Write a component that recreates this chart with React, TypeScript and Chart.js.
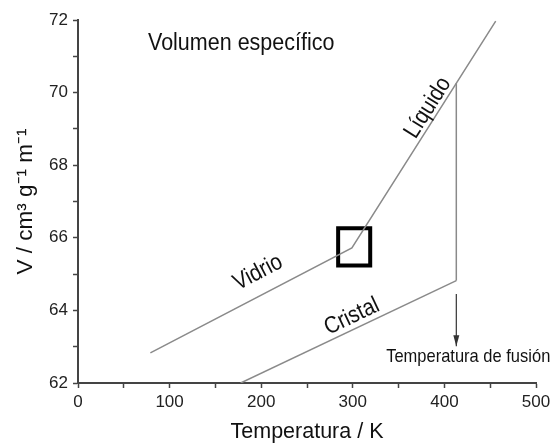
import React, { useEffect, useRef } from "react";
import { Chart, registerables } from "chart.js";
Chart.register(...registerables);

// Glass (Vidrio) + liquid (Líquido) curve: temperature (K) and specific volume
const glassT = [79, 299, 456];
const glassV = [62.83, 65.72, 71.97];
// Crystal (Cristal) line
const crystalT = [177.6, 413];
const crystalV = [62.0, 64.82];
// Vertical jump at the melting temperature
const meltT = [413, 413];
const meltV = [64.82, 70.26];
// Arrow pointing to "Temperatura de fusión"
const arrowT = [413, 413];
const arrowV = [64.45, 63.01];
// Square marking the glass transition
const boxT = [284, 319, 319, 284, 284];
const boxV = [65.24, 65.24, 66.26, 66.26, 65.24];

// Axis ticks
const xMajorTicks = [0, 100, 200, 300, 400, 500];
const yMajorTicks = [62, 64, 66, 68, 70, 72];

// Curve labels
const curveLabels = ["Vidrio", "Cristal", "Líquido"];
const curveLabelT = [196.5, 299, 382];
const curveLabelV = [65.04, 63.83, 69.58];

// Free texts
const headerText = "Volumen específico";
const headerT = 76.4;
const headerV = 71.37;
const fusionText = "Temperatura de fusión";
const fusionT = 426;
const fusionV = 62.73;

const FAMILY = '"Liberation Sans", Arial, Helvetica, sans-serif';

export default function App() {
  const ref = useRef<HTMLCanvasElement>(null);

  useEffect(() => {
    const canvas = ref.current!;
    const pts = (xs: number[], ys: number[]) => xs.map((x, i) => ({ x, y: ys[i] }));

    const segments = [
      [glassT[0], glassV[0], glassT[1], glassV[1]],
      [crystalT[0], crystalV[0], crystalT[1], crystalV[1]],
      [glassT[1], glassV[1], glassT[2], glassV[2]],
    ];

    const textPlugin = {
      id: "annotationTexts",
      afterDatasetsDraw(chart: any) {
        const { ctx } = chart;
        const xs = chart.scales.x;
        const ys = chart.scales.y;
        const px = (t: number) => xs.getPixelForValue(t);
        const py = (v: number) => ys.getPixelForValue(v);
        const drawText = (text: string, cx: number, cy: number, angle: number, size: number, align: CanvasTextAlign) => {
          ctx.save();
          ctx.translate(cx, cy);
          ctx.rotate(angle);
          ctx.scale(1, 1.15);
          ctx.font = `${size}px ${FAMILY}`;
          ctx.fillStyle = "#111";
          ctx.textAlign = align;
          ctx.textBaseline = "middle";
          ctx.fillText(text, 0, 0);
          ctx.restore();
        };

        curveLabels.forEach((label, i) => {
          const [t1, v1, t2, v2] = segments[i];
          const ang = Math.atan2(py(v2) - py(v1), px(t2) - px(t1));
          drawText(label, px(curveLabelT[i]), py(curveLabelV[i]), ang, 20.5, "center");
        });

        drawText(headerText, px(headerT), py(headerV), 0, 21.5, "left");
        drawText(fusionText, px(fusionT), py(fusionV), 0, 16.5, "center");

        // arrow head
        const ax = px(arrowT[1]);
        const ay = py(arrowV[1]);
        ctx.save();
        ctx.fillStyle = "#333";
        ctx.beginPath();
        ctx.moveTo(ax, ay);
        ctx.lineTo(ax - 3, ay - 11);
        ctx.lineTo(ax + 3, ay - 11);
        ctx.closePath();
        ctx.fill();
        ctx.restore();
      },
    };

    const isMajor = (list: number[], v: number) => list.some((t) => Math.abs(t - v) < 1e-6);
    const tickFont = { family: FAMILY, size: 17 };

    const chart = new Chart(canvas, {
      type: "line",
      data: {
        datasets: [
          { data: pts(glassT, glassV), borderColor: "#8a8a8a", borderWidth: 1.5 },
          { data: pts(crystalT, crystalV), borderColor: "#8a8a8a", borderWidth: 1.5 },
          { data: pts(meltT, meltV), borderColor: "#8a8a8a", borderWidth: 1.5 },
          { data: pts(arrowT, arrowV), borderColor: "#333", borderWidth: 1.2 },
          {
            data: pts(boxT, boxV),
            borderColor: "#000",
            borderWidth: 4,
            borderCapStyle: "square",
            borderJoinStyle: "miter",
          },
        ] as any,
      },
      options: {
        animation: false,
        responsive: false,
        maintainAspectRatio: false,
        elements: { point: { radius: 0, hoverRadius: 0 }, line: { tension: 0 } },
        plugins: { legend: { display: false }, tooltip: { enabled: false } },
        layout: { padding: { top: 20, right: 22, left: 0, bottom: 0 } },
        scales: {
          x: {
            type: "linear",
            min: 0,
            max: 500,
            ticks: {
              stepSize: 50,
              autoSkip: false,
              maxRotation: 0,
              padding: 4,
              color: "#222",
              font: tickFont,
              callback: (v: any) => (isMajor(xMajorTicks, Number(v)) ? String(v) : ""),
            },
            grid: {
              display: true,
              drawOnChartArea: false,
              drawTicks: true,
              tickLength: 5,
              tickColor: "#444",
              tickWidth: 1.5,
            },
            border: { display: true, color: "#444", width: 2 },
            title: {
              display: true,
              text: "Temperatura / K",
              color: "#111",
              font: { family: FAMILY, size: 21.5, lineHeight: 1 },
              padding: { top: 0, bottom: 0 },
            },
            afterFit: (s: any) => {
              s.height = 60;
            },
          },
          y: {
            type: "linear",
            min: 62,
            max: 72,
            ticks: {
              stepSize: 1,
              autoSkip: false,
              padding: 5,
              color: "#222",
              font: tickFont,
              callback: (v: any) => (isMajor(yMajorTicks, Number(v)) ? String(v) : ""),
            },
            grid: {
              display: true,
              drawOnChartArea: false,
              drawTicks: true,
              tickLength: 5,
              tickColor: "#444",
              tickWidth: 1.5,
            },
            border: { display: true, color: "#444", width: 2 },
            title: {
              display: true,
              text: "V / cm³ g⁻¹ m⁻¹",
              color: "#111",
              font: { family: FAMILY, size: 22.5, lineHeight: 1 },
              padding: { top: 15, bottom: 0 },
            },
            afterFit: (s: any) => {
              s.width = 78;
            },
          },
        },
      } as any,
      plugins: [textPlugin],
    });

    return () => chart.destroy();
  }, []);

  return (
    <canvas
      ref={ref}
      width={558}
      height={443}
      style={{ position: "fixed", left: 0, top: 0, width: 558, height: 443, background: "#fff" }}
    />
  );
}
